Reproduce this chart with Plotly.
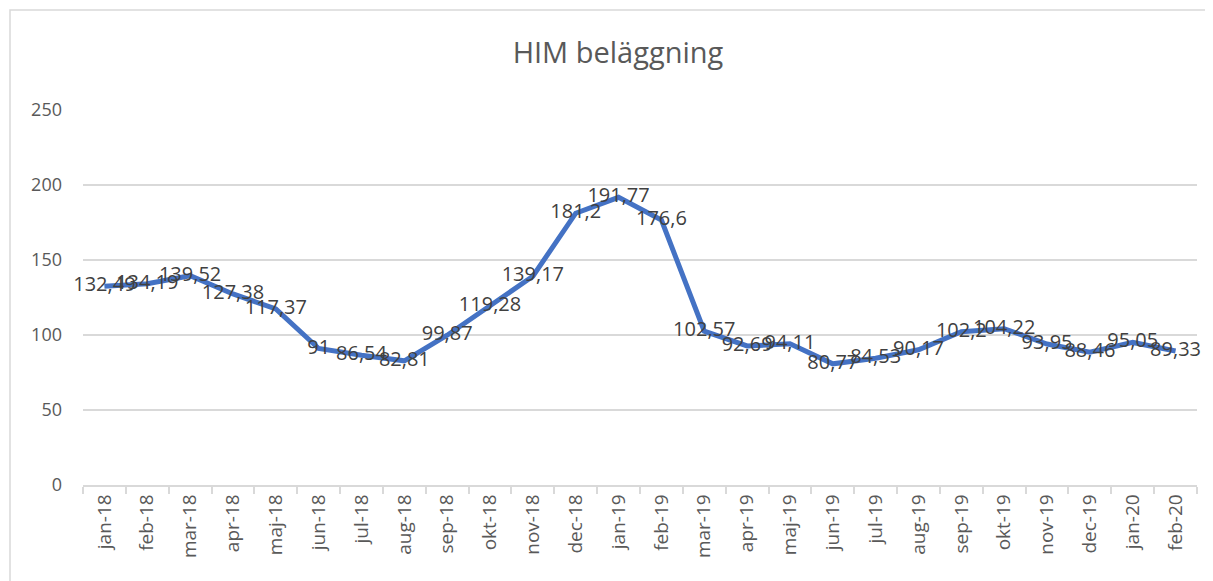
import plotly.graph_objects as go

# Data
months = ["jan-18", "feb-18", "mar-18", "apr-18", "maj-18", "jun-18", "jul-18", "aug-18",
          "sep-18", "okt-18", "nov-18", "dec-18", "jan-19", "feb-19", "mar-19", "apr-19",
          "maj-19", "jun-19", "jul-19", "aug-19", "sep-19", "okt-19", "nov-19", "dec-19",
          "jan-20", "feb-20"]
belaggning = [132.49, 134.19, 139.52, 127.38, 117.37, 91, 86.54, 82.81,
              99.87, 119.28, 139.17, 181.2, 191.77, 176.6, 102.57, 92.69,
              94.11, 80.77, 84.53, 90.17, 102.2, 104.22, 93.95, 88.46,
              95.05, 89.33]
y_ticks = [0, 50, 100, 150, 200, 250]

# Swedish decimal comma for the labels
labels = [("%g" % v).replace(".", ",") for v in belaggning]

FONT = "Open Sans, Lato, sans-serif"
# page body adds 8px, so the figure is sized to the visible window
W, H = 1205, 573
M_L, M_R, M_T, M_B = 75, 16, 102, 96
plot_w = W - M_L - M_R
plot_h = H - M_T - M_B

fig = go.Figure()
fig.add_trace(go.Scatter(
    x=months, y=belaggning,
    mode="lines+text",
    text=labels,
    textposition="middle center",
    textfont=dict(family=FONT, size=20, color="#404040"),
    line=dict(color="#4472C4", width=5),
    cliponaxis=False,
    hoverinfo="x+y",
))

fig.update_layout(
    width=W, height=H,
    margin=dict(l=M_L, r=M_R, t=M_T, b=M_B),
    paper_bgcolor="white",
    plot_bgcolor="white",
    showlegend=False,
    title=dict(
        text="HIM beläggning",
        xref="container", x=610 / W, xanchor="center",
        yref="container", y=1 - 45 / H, yanchor="middle",
        font=dict(family=FONT, size=29, color="#595959"),
    ),
    font=dict(family=FONT, color="#595959"),
)

fig.update_xaxes(
    type="category",
    range=[-0.5, len(months) - 0.5],
    tickangle=-90,
    tickfont=dict(size=19, color="#595959"),
    showline=True, linecolor="#d9d9d9", linewidth=1.5,
    ticks="outside", tickson="boundaries", ticklen=7, tickcolor="#d9d9d9", tickwidth=1.5,
    showgrid=False,
    automargin=False,
)
fig.update_yaxes(
    range=[0, 250],
    tickvals=y_ticks,
    tickfont=dict(size=18, color="#595959"),
    showgrid=True, gridcolor="#d9d9d9", gridwidth=1.5,
    zeroline=False, showline=False,
    ticklabelstandoff=20,
    automargin=False,
)

# chart-area border (light grey, cropped at right/bottom)
fig.add_shape(
    type="rect", xref="paper", yref="paper",
    x0=(2 - M_L) / plot_w, x1=(W + 20 - M_L) / plot_w,
    y0=(M_T + plot_h - (H + 20)) / plot_h, y1=(M_T + plot_h - 2) / plot_h,
    line=dict(color="#d9d9d9", width=1.5),
    layer="below",
)

fig.write_html("out.html")
